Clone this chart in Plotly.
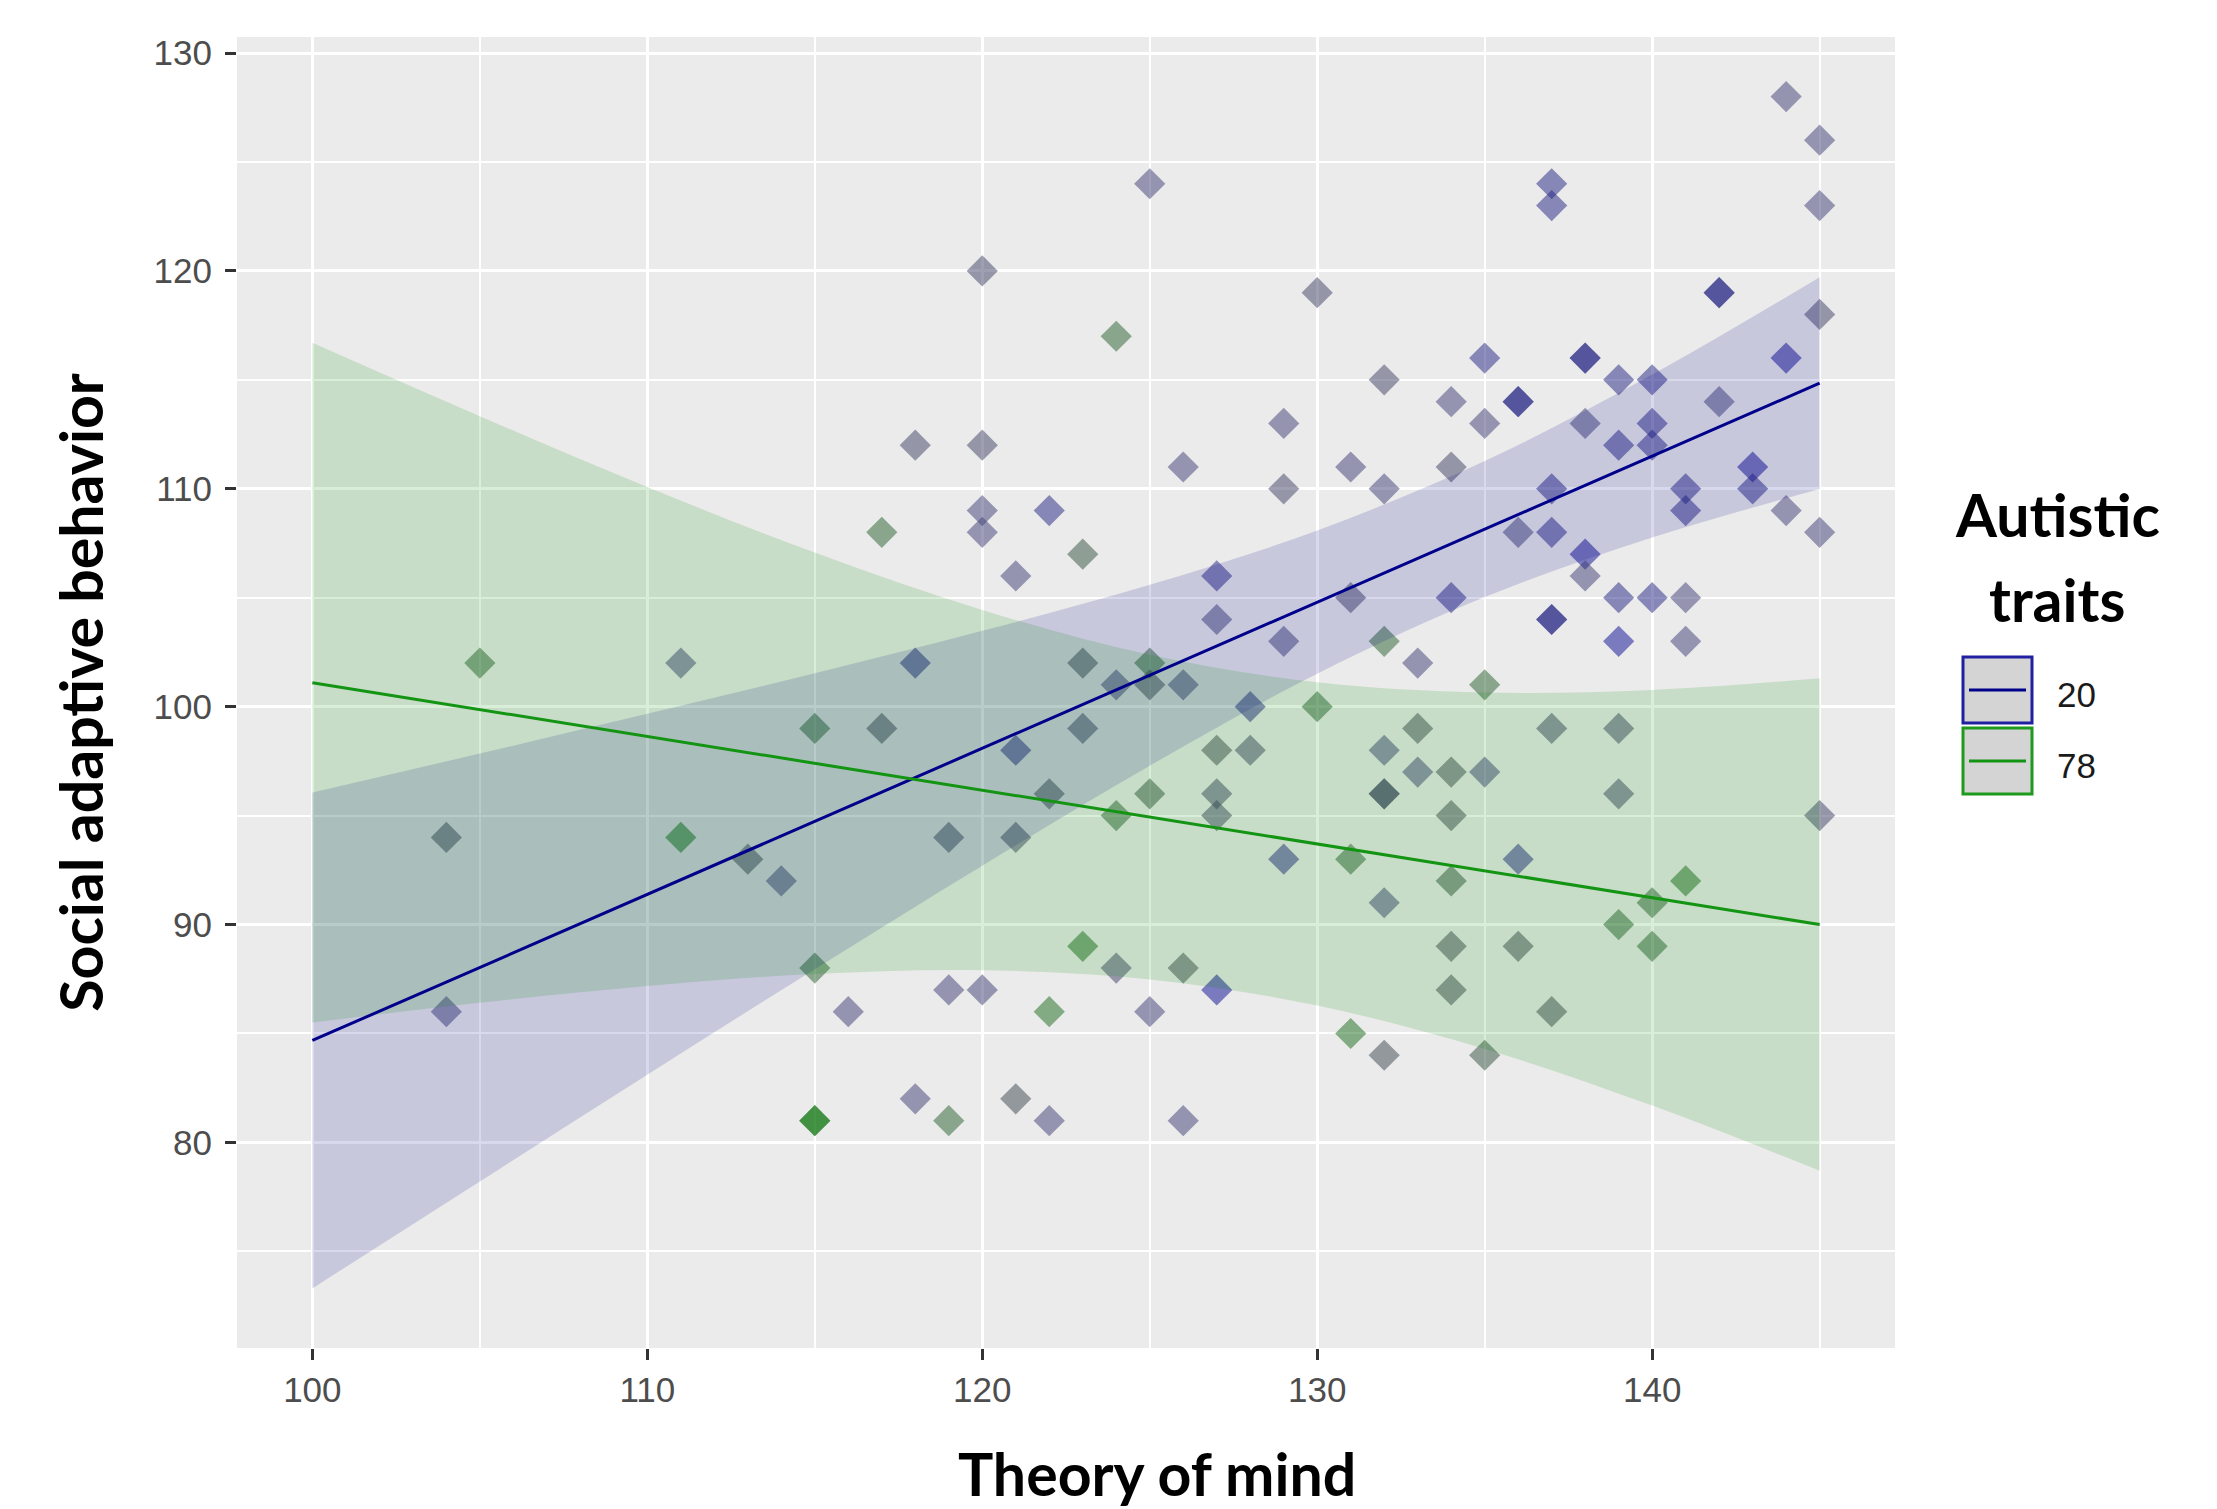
import plotly.graph_objects as go

# ---------------- data ----------------
tom = [104, 104, 105, 111, 111, 113, 114, 115, 115, 115, 115, 116, 117, 117,
       118, 118, 118, 119, 119, 119, 120, 120, 120, 120, 120,
       121, 121, 121, 121, 122, 122, 122, 122, 123, 123, 123, 123,
       124, 124, 124, 124, 125, 125, 125, 125, 125,
       126, 126, 126, 126, 127, 127, 127, 127, 127, 127, 128, 128,
       129, 129, 129, 129, 130, 130, 131, 131, 131, 131,
       132, 132, 132, 132, 132, 132, 132, 132, 133, 133, 133,
       134, 134, 134, 134, 134, 134, 134, 134, 135, 135, 135, 135, 135,
       136, 136, 136, 136, 136, 137, 137, 137, 137, 137, 137, 137, 137,
       138, 138, 138, 138, 138, 139, 139, 139, 139, 139, 139, 139,
       140, 140, 140, 140, 140, 140, 141, 141, 141, 141, 141,
       142, 142, 142, 143, 143, 144, 144, 144, 145, 145, 145, 145, 145]
sab = [86, 94, 102, 102, 94, 93, 92, 99, 88, 81, 81, 86, 108, 99,
       112, 102, 82, 94, 87, 81, 120, 112, 109, 108, 87,
       106, 98, 94, 82, 109, 96, 86, 81, 107, 102, 99, 89,
       117, 101, 95, 88, 124, 102, 101, 96, 86,
       111, 101, 88, 81, 106, 104, 98, 96, 95, 87, 100, 98,
       113, 110, 103, 93, 119, 100, 111, 105, 93, 85,
       115, 110, 103, 98, 96, 96, 91, 84, 102, 99, 97,
       114, 111, 105, 97, 95, 92, 89, 87, 116, 113, 101, 97, 84,
       114, 114, 108, 93, 89, 124, 123, 110, 108, 104, 104, 99, 86,
       116, 116, 113, 107, 106, 115, 112, 105, 103, 99, 96, 90,
       115, 113, 112, 105, 91, 89, 110, 109, 105, 103, 92,
       119, 119, 114, 111, 110, 128, 116, 109, 126, 123, 118, 108, 95]
# colour tone of each point: 0 = blue ... 4 = green
tone = [1, 2, 3, 1, 4, 2, 1, 3, 3, 4, 4, 1, 3, 2,
        1.5, 0.5, 1, 1.5, 1, 3, 1.5, 1.5, 1, 1, 1,
        1, 0.5, 1.5, 2, 0.5, 2, 3.5, 1, 2.5, 2, 1.5, 3.5,
        3, 1, 3, 1.5, 1, 3, 2, 2.5, 1,
        1, 1, 2, 1, 0.5, 1, 2, 1.5, 1.5, 0, 0.5, 1.5,
        1, 1.5, 1, 0.5, 1.5, 3, 1, 1.5, 3, 3.5,
        1.5, 1, 3, 1, 1.5, 1.5, 1, 2, 1, 2, 1,
        1, 1.5, 0.5, 2, 2, 2.5, 2, 2, 0.5, 1, 3, 1, 2.5,
        0.5, 0.5, 1, 0.5, 2, 0.5, 0.5, 0.5, 0.5, 0.5, 0.5, 1.5, 2,
        0.5, 0.5, 1, 0, 1, 0.5, 0.5, 0.5, 0, 1.5, 1.5, 3,
        0.5, 0.5, 0.5, 0.5, 3, 3, 0.5, 0.5, 1, 1, 3.5,
        0.5, 0.5, 1, 0, 0.5, 1, 0, 1, 1, 1, 1.5, 1, 1.5]

# fitted lines and confidence bands (read at x = 100, 105, ..., 145)
fit_x = [100, 105, 110, 115, 120, 125, 130, 135, 140, 145]
blue_fit = [84.68, 88.03, 91.39, 94.74, 98.09, 101.44, 104.80, 108.15, 111.50, 114.85]
blue_lo = [73.30, 78.21, 83.11, 87.95, 92.70, 97.29, 101.51, 105.03, 107.76, 109.99]
blue_hi = [96.06, 97.85, 99.67, 101.53, 103.48, 105.59, 108.09, 111.27, 115.24, 119.71]
green_fit = [101.10, 99.87, 98.63, 97.40, 96.17, 94.93, 93.70, 92.47, 91.23, 90.00]
green_lo = [85.50, 86.41, 87.18, 87.73, 87.90, 87.48, 86.28, 84.29, 81.69, 78.70]
green_hi = [116.70, 113.33, 110.08, 107.07, 104.44, 102.38, 101.12, 100.65, 100.77, 101.30]

legend_labels = ["20", "78"]
x_ticks = [100, 110, 120, 130, 140]
y_ticks = [80, 90, 100, 110, 120, 130]

# ---------------- styling ----------------
W, H = 2217, 1509
L, R, T, B = 237, 322, 37, 161
PW, PH = W - L - R, H - T - B

def px_x(p):
    return (p - L) / PW

def px_y(p):
    return (H - B - p) / PH

BLUE = "#00008B"
GREEN = "#139413"
tone_stops = [(10, 10, 145), (62, 62, 120), (60, 70, 80), (40, 95, 45), (10, 115, 10)]

def tone_color(t):
    i = min(int(t), 3)
    f = t - i
    a, b = tone_stops[i], tone_stops[i + 1]
    c = [round(a[k] + (b[k] - a[k]) * f) for k in range(3)]
    return "rgb(%d,%d,%d)" % tuple(c)

fig = go.Figure()

fig.add_trace(go.Scatter(
    x=tom, y=sab, mode="markers", showlegend=False, hoverinfo="x+y",
    marker=dict(symbol="diamond", size=24, color=[tone_color(t) for t in tone],
                opacity=0.5, line=dict(width=0))))

for lo, hi, col in [(blue_lo, blue_hi, "rgba(0,0,139,0.15)"),
                    (green_lo, green_hi, "rgba(0,139,0,0.15)")]:
    fig.add_trace(go.Scatter(x=fit_x, y=lo, mode="lines", showlegend=False,
                             line=dict(width=0, shape="spline"), hoverinfo="skip"))
    fig.add_trace(go.Scatter(x=fit_x, y=hi, mode="lines", showlegend=False,
                             line=dict(width=0, shape="spline"), fill="tonexty",
                             fillcolor=col, hoverinfo="skip"))

fig.add_trace(go.Scatter(x=fit_x, y=blue_fit, mode="lines", showlegend=False,
                         line=dict(color=BLUE, width=3)))
fig.add_trace(go.Scatter(x=fit_x, y=green_fit, mode="lines", showlegend=False,
                         line=dict(color=GREEN, width=3)))

tick_font = dict(family="Liberation Sans, Arial, sans-serif", size=35, color="#4D4D4D")
title_font = dict(family="Lato, sans-serif", size=59, color="black", weight="bold")

fig.update_xaxes(range=[97.75, 147.25], tickmode="array", tickvals=x_ticks,
                 ticktext=[str(v) for v in x_ticks],
                 showgrid=True, gridcolor="white", gridwidth=3.2, zeroline=False,
                 ticks="outside", ticklen=11, tickwidth=2.5, tickcolor="#333333",
                 tickfont=tick_font, showline=False,
                 minor=dict(tickmode="linear", tick0=105, dtick=10, showgrid=True,
                            gridcolor="white", gridwidth=1.6, ticks=""))
fig.update_yaxes(range=[70.565, 130.735], tickmode="array", tickvals=y_ticks,
                 ticktext=[str(v) for v in y_ticks],
                 showgrid=True, gridcolor="white", gridwidth=3.2, zeroline=False,
                 ticks="outside", ticklen=11, tickwidth=2.5, tickcolor="#333333",
                 tickfont=tick_font, showline=False, ticklabelstandoff=6,
                 title=dict(text="Social adaptive behavior", font=title_font, standoff=30),
                 minor=dict(tickmode="linear", tick0=75, dtick=10, showgrid=True,
                            gridcolor="white", gridwidth=1.6, ticks=""))

annotations = [
    dict(text="Theory of mind", x=px_x(1157), y=px_y(1474), xref="paper", yref="paper",
         xanchor="center", yanchor="middle", showarrow=False, font=title_font),
    dict(text="Autistic", x=px_x(2057), y=px_y(514), xref="paper", yref="paper",
         xanchor="center", yanchor="middle", showarrow=False, font=title_font),
    dict(text="traits", x=px_x(2057), y=px_y(600), xref="paper", yref="paper",
         xanchor="center", yanchor="middle", showarrow=False, font=title_font),
]
shapes = []
for i, (lab, col, linecol) in enumerate([(legend_labels[0], "#2020A0", BLUE),
                                          (legend_labels[1], "#1E9A1E", GREEN)]):
    top = 657 + i * 71
    bot = top + 66
    shapes.append(dict(type="rect", xref="paper", yref="paper",
                       x0=px_x(1963), x1=px_x(2032), y0=px_y(bot), y1=px_y(top),
                       fillcolor="#D4D4D4", line=dict(color=col, width=3)))
    mid = (top + bot) / 2
    shapes.append(dict(type="line", xref="paper", yref="paper",
                       x0=px_x(1969), x1=px_x(2026), y0=px_y(mid), y1=px_y(mid),
                       line=dict(color=linecol, width=3)))
    annotations.append(dict(text=lab, x=px_x(2055), y=px_y(mid + 4), xref="paper",
                            yref="paper", xanchor="left", yanchor="middle",
                            showarrow=False,
                            font=dict(family="Liberation Sans, Arial, sans-serif",
                                      size=35, color="#1A1A1A")))

fig.update_layout(width=W, height=H, margin=dict(l=L, r=R, t=T, b=B, pad=0),
                  plot_bgcolor="#EBEBEB", paper_bgcolor="white",
                  showlegend=False, annotations=annotations, shapes=shapes)

fig.write_html("out.html", config={"displayModeBar": False},
               post_script="document.body.style.margin='0';document.body.style.overflow='hidden';")
